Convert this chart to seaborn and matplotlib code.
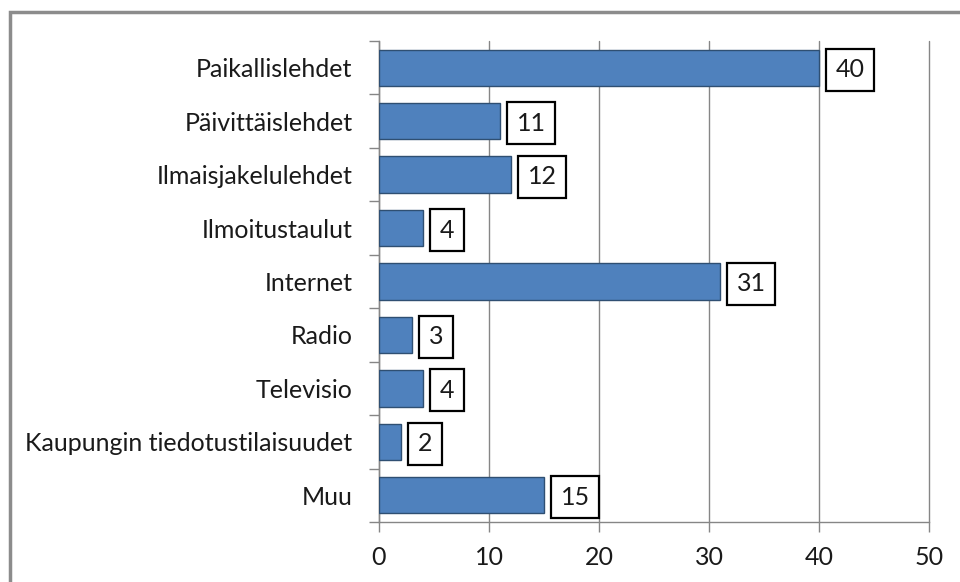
import numpy as np
import pandas as pd
import seaborn as sns
import matplotlib as mpl
import matplotlib.pyplot as plt
from matplotlib.patches import Rectangle

categories = ['Paikallislehdet', 'Päivittäislehdet', 'Ilmaisjakelulehdet', 'Ilmoitustaulut',
              'Internet', 'Radio', 'Televisio', 'Kaupungin tiedotustilaisuudet', 'Muu']
values = [40, 11, 12, 4, 31, 3, 4, 2, 15]
xticks = [0, 10, 20, 30, 40, 50]

sns.set_style('white')
plt.rcParams['font.family'] = ['Lato', 'DejaVu Sans']
fs = 18
axis_clr = '#868686'

df = pd.DataFrame({'cat': categories, 'val': values})

fig = plt.figure(figsize=(9.6, 5.82), dpi=100)
ax = fig.add_axes([379/960, 1 - 522/582, 550/960, 481/582])

# chart frame
fig.patches.append(Rectangle((10/960, -0.1), 1.1, 1 - 12/582 + 0.1, transform=fig.transFigure,
                             fill=False, edgecolor='#8c8c8c', linewidth=2.5, zorder=0))

sns.barplot(data=df, x='val', y='cat', orient='h', color='#4f81bd', saturation=1,
            width=0.68, edgecolor='#2f4f72', linewidth=1.0, ax=ax, zorder=3)

for i, v in enumerate(values):
    ax.annotate(str(v), xy=(v, i), xytext=(12, 0), textcoords='offset points',
                ha='left', va='center_baseline', fontsize=fs, color='#1a1a1a', zorder=5,
                bbox=dict(boxstyle='square,pad=0.38', facecolor='white',
                          edgecolor='black', linewidth=1.6))

ax.set_xlim(0, 50)
ax.set_ylim(len(categories) - 0.5, -0.5)
ax.set_xticks(xticks)
ax.xaxis.grid(True, color='#868686', linewidth=1.0, zorder=0)
for gl in ax.get_xgridlines():
    gl.set_clip_on(False)
ax.set_axisbelow(True)
ax.set_xlabel('')
ax.set_ylabel('')

ax.set_yticks(range(len(categories)))
ax.set_yticklabels(categories)
ax.set_yticks(np.arange(-0.5, len(categories), 1), minor=True)
ax.tick_params(axis='y', which='major', length=0, pad=19, labelsize=fs, labelcolor='#1a1a1a')
ax.tick_params(axis='y', which='minor', length=7, width=1, color=axis_clr, left=True)
ax.tick_params(axis='x', which='major', length=7, width=1, color=axis_clr, bottom=True,
               pad=10, labelsize=fs, labelcolor='#1a1a1a')

for s in ['top', 'right']:
    ax.spines[s].set_visible(False)
for s in ['left', 'bottom']:
    ax.spines[s].set_color(axis_clr)
    ax.spines[s].set_linewidth(1.0)

fig.savefig('out.png', dpi=100, facecolor='white')
